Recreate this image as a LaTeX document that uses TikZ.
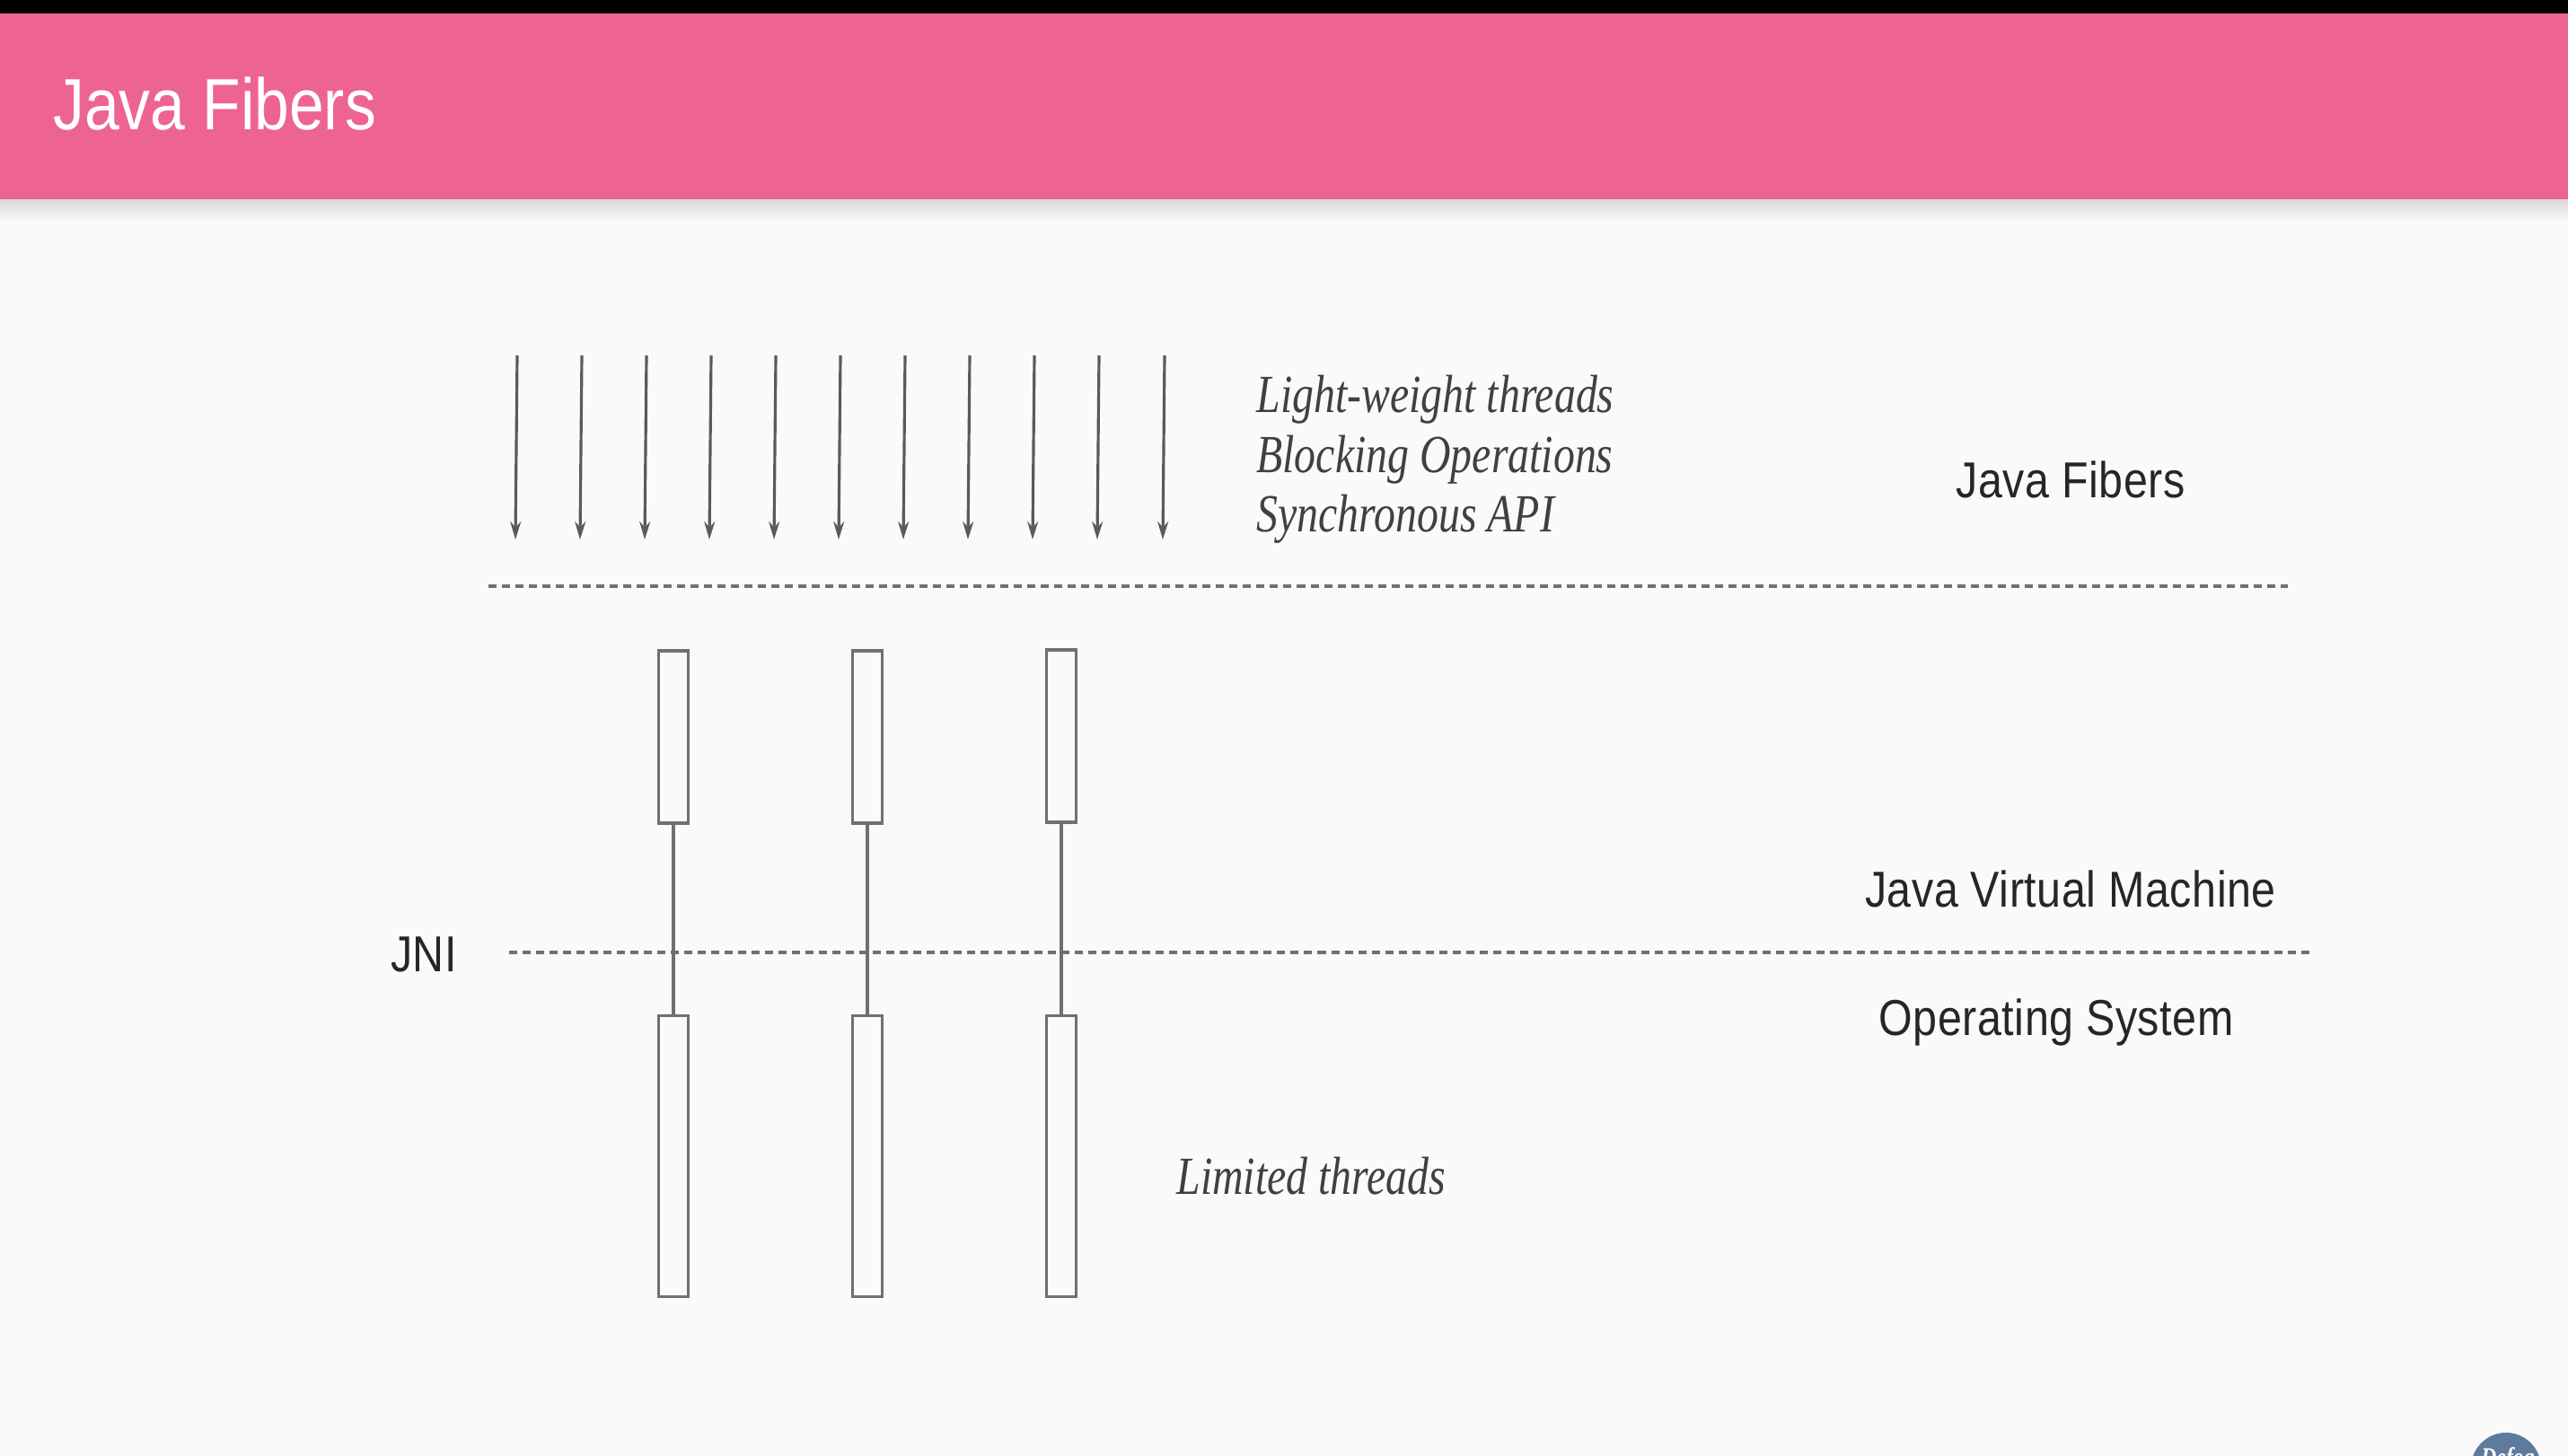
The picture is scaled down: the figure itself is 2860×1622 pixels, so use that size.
\documentclass[tikz,border=0pt]{standalone}
\usepackage{fontspec}
\usepackage{tikz}
\usetikzlibrary{arrows.meta}
\setmainfont[FakeStretch=0.86]{Liberation Sans}
\newfontfamily\labelfont[FakeStretch=0.86,LetterSpace=1]{Liberation Sans}
\newfontfamily\handfont[FakeStretch=0.8,ItalicFont={Liberation Serif Italic}]{Liberation Serif}

\definecolor{headpink}{HTML}{EE6491}
\definecolor{pagegray}{HTML}{FAFAFA}
\definecolor{linegray}{HTML}{707070}
\definecolor{logoblue}{HTML}{5F7A9D}

\tikzset{
    fiber/.style={-{Stealth[length=0.2cm,width=0.12cm]}, line width=0.9pt, draw=linegray!80!black},
    split/.style={dashed, dash pattern=on 0.09cm off 0.06cm, line width=0.9pt, draw=linegray},
    thread/.style={draw=linegray, fill=pagegray, line width=0.9pt, rectangle, inner sep=0pt, minimum width=0.33cm},
    link/.style={draw=linegray, line width=0.9pt},
    layer/.style={text=black!85, font=\labelfont\fontsize{16}{18}\selectfont},
    hand/.style={text=black!75, anchor=west, font=\handfont\itshape\fontsize{17}{19}\selectfont}
}

\begin{document}
\begin{tikzpicture}[x=0.01cm,y=-0.01cm]
\useasboundingbox (0,0) rectangle (2860,1622);

\fill[pagegray] (0,0) rectangle (2860,1622);
\shade[top color=black!16, bottom color=pagegray] (0,220) rectangle (2860,248);
\fill[headpink] (0,15) rectangle (2860,222);
\fill[black] (0,0) rectangle (2860,15);
\node[anchor=west, text=white, font=\fontsize{23}{26}\selectfont] (title) at (47,116) {Java Fibers};

% fibers
\coordinate (fa) at (576,396);  \coordinate (fA) at (574,601);
\coordinate (fb) at (648,396);  \coordinate (fB) at (646,601);
\coordinate (fc) at (720,396);  \coordinate (fC) at (718,601);
\coordinate (fd) at (792,396);  \coordinate (fD) at (790,601);
\coordinate (fe) at (864,396);  \coordinate (fE) at (862,601);
\coordinate (ff) at (936,396);  \coordinate (fF) at (934,601);
\coordinate (fg) at (1008,396); \coordinate (fG) at (1006,601);
\coordinate (fh) at (1080,396); \coordinate (fH) at (1078,601);
\coordinate (fi) at (1152,396); \coordinate (fI) at (1150,601);
\coordinate (fj) at (1224,396); \coordinate (fJ) at (1222,601);
\coordinate (fk) at (1297,396); \coordinate (fK) at (1295,601);
\draw[fiber] (fa) -- (fA);
\draw[fiber] (fb) -- (fB);
\draw[fiber] (fc) -- (fC);
\draw[fiber] (fd) -- (fD);
\draw[fiber] (fe) -- (fE);
\draw[fiber] (ff) -- (fF);
\draw[fiber] (fg) -- (fG);
\draw[fiber] (fh) -- (fH);
\draw[fiber] (fi) -- (fI);
\draw[fiber] (fj) -- (fJ);
\draw[fiber] (fk) -- (fK);

\node[hand] (light) at (1387,445) {Light-weight threads};
\node[hand] (block) at (1387,512) {Blocking Operations};
\node[hand] (sync) at (1387,578) {Synchronous API};

% dashed lines
\coordinate (topL) at (544,653);
\coordinate (topR) at (2548,653);
\coordinate (midL) at (567,1061);
\coordinate (midR) at (2572,1061);
\draw[split] (topL) -- (topR);
\draw[split] (midL) -- (midR);

% threads
\node[thread, minimum height=1.92cm] (jvmA) at (750,821) {};
\node[thread, minimum height=1.92cm] (jvmB) at (966,821) {};
\node[thread, minimum height=1.92cm] (jvmC) at (1182,820) {};
\node[thread, minimum height=3.12cm] (osA) at (750,1288) {};
\node[thread, minimum height=3.12cm] (osB) at (966,1288) {};
\node[thread, minimum height=3.12cm] (osC) at (1182,1288) {};
\draw[link] (jvmA) -- (osA);
\draw[link] (jvmB) -- (osB);
\draw[link] (jvmC) -- (osC);

\node[hand] (limited) at (1298,1310) {Limited threads};

\node[layer] (fibers) at (2306,534) {Java Fibers};
\node[layer] (jvm) at (2306,990) {Java Virtual Machine};
\node[layer] (os) at (2290,1139) {Operating System};
\node[layer] (jni) at (472,1063) {JNI};

% logo in the corner
\begin{scope}
    \clip (2700,1540) rectangle (2860,1622);
    \fill[logoblue] (2791,1635) circle (39);
    \node[text=white, font=\handfont\itshape\bfseries\fontsize{8.5}{10}\selectfont] (logo) at (2793,1626) {Defog};
\end{scope}
\end{tikzpicture}
\end{document}
